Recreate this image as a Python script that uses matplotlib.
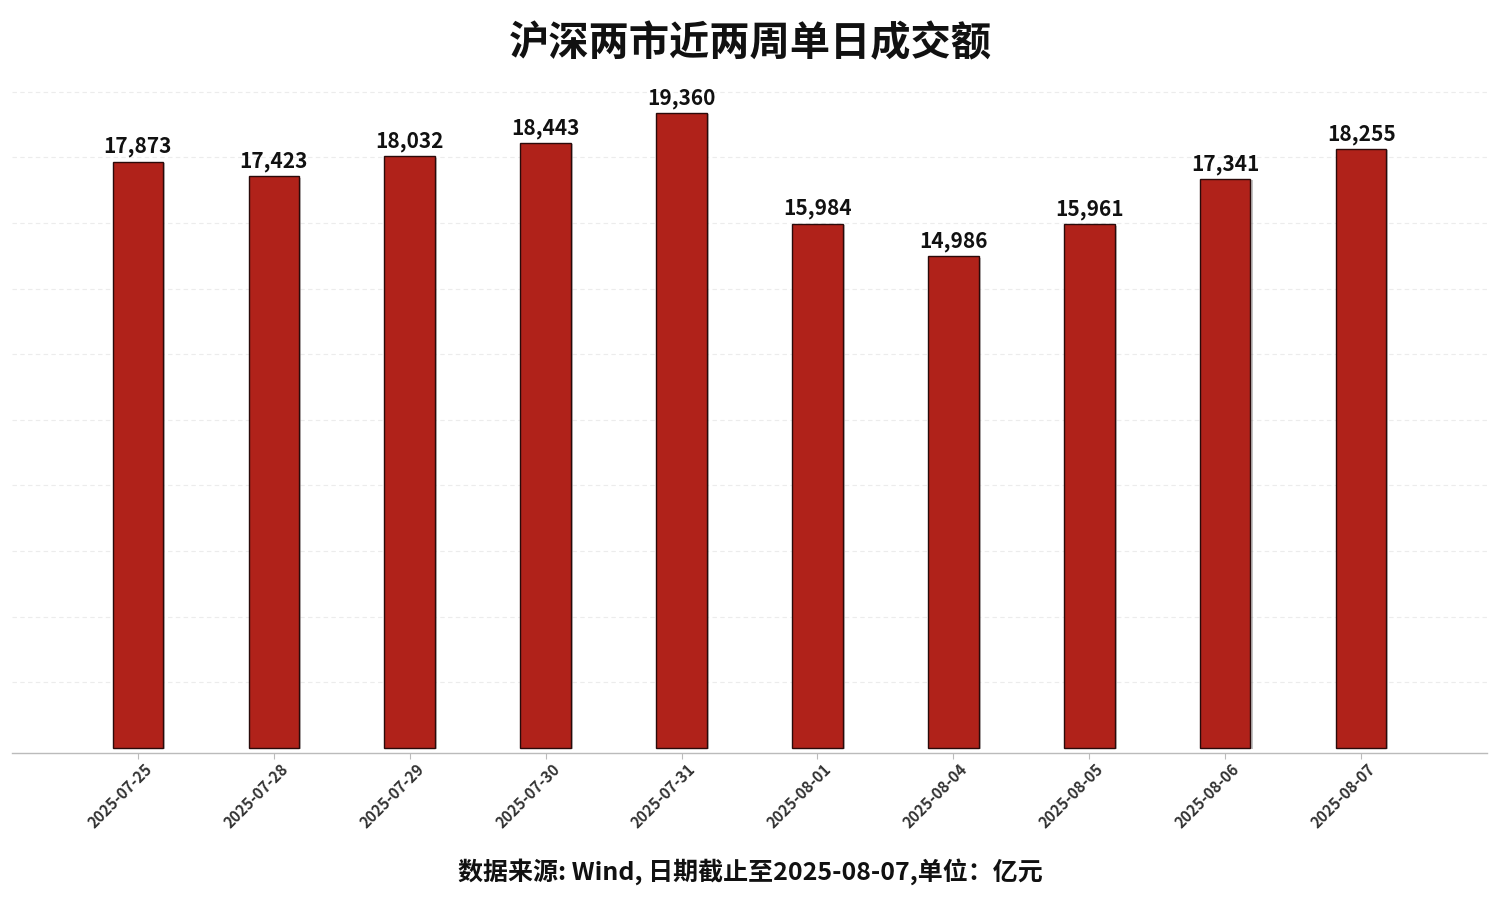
import matplotlib
matplotlib.use("Agg")
import matplotlib.pyplot as plt
import matplotlib.patheffects as pe
import matplotlib.transforms as mtransforms
import numpy as np

dates = ["2025-07-25", "2025-07-28", "2025-07-29", "2025-07-30", "2025-07-31",
         "2025-08-01", "2025-08-04", "2025-08-05", "2025-08-06", "2025-08-07"]
turnover = [17873, 17423, 18032, 18443, 19360, 15984, 14986, 15961, 17341, 18255]

title = "沪深两市近两周单日成交额"
footer = "数据来源: Wind, 日期截止至2025-08-07,单位：亿元"

plt.rcParams['font.family'] = ['Noto Sans CJK SC', 'DejaVu Sans']

fig = plt.figure(figsize=(15, 9), dpi=100)
ax = fig.add_axes([12/1500, 1-753/900, 1475/1500, (753-80)/900])

x = np.arange(len(dates))
bars = ax.bar(x, turnover, width=0.37, color="#B0221A", edgecolor="#2a0a0a",
              linewidth=1.0, zorder=3)
for b in bars:
    b.set_path_effects([pe.SimplePatchShadow(offset=(1.5, -1), shadow_rgbFace="#888888", alpha=0.5),
                        pe.Normal()])

for xi, v in zip(x, turnover):
    ax.annotate(f"{v:,}", (xi, v), xytext=(0, 3), textcoords="offset points",
                ha="center", va="bottom", fontsize=15, fontweight="bold", color="#111111")

ax.set_xlim(-0.925, len(dates) - 1 + 0.925)
ax.set_ylim(-155, 20360)
ax.set_yticks(np.arange(2000, 20001, 2000))
ax.yaxis.grid(True, color="#ececec", linestyle=(0, (4, 3)), linewidth=0.8, zorder=0)
ax.tick_params(axis="y", left=False, labelleft=False)
ax.set_xticks(x)
ax.set_xticklabels(dates, rotation=45, ha="right", rotation_mode="anchor",
                   fontsize=11, fontweight="bold", color="#333333")
ax.tick_params(axis="x", length=4, color="#bbbbbb", pad=3)
offset = mtransforms.ScaledTranslation(6/100, 2/100, fig.dpi_scale_trans)
for lbl in ax.get_xticklabels():
    lbl.set_transform(lbl.get_transform() + offset)
for s in ["top", "right", "left"]:
    ax.spines[s].set_visible(False)
ax.spines["bottom"].set_color("#bbbbbb")
ax.spines["bottom"].set_linewidth(1.0)

fig.text(0.5, 1 - 44/900, title, ha="center", va="center", fontsize=29, fontweight="bold", color="#111111")
fig.text(0.5, 1 - 872/900, footer, ha="center", va="center", fontsize=18, fontweight="bold", color="#111111")

fig.savefig("out.png", dpi=100, facecolor="white")
